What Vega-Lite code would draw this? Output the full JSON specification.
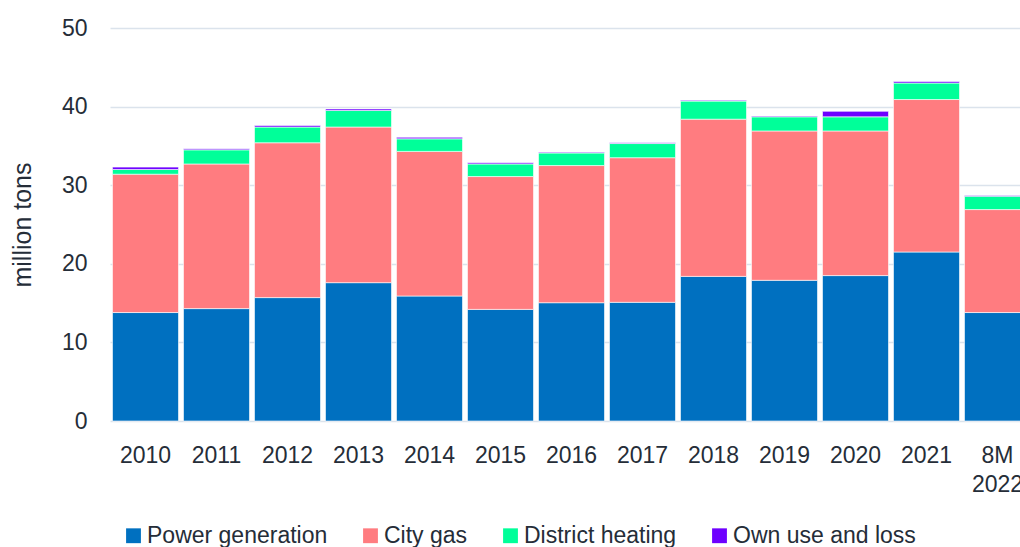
{
  "$schema": "https://vega.github.io/schema/vega-lite/v6.json",
  "autosize": {"type": "none"},
  "width": 923,
  "height": 393,
  "padding": {"left": 110, "top": 28, "right": 0, "bottom": 126},
  "background": "white",
  "config": {
    "view": {"stroke": null},
    "font": "Liberation Sans",
    "axis": {"labelFont": "Liberation Sans", "titleFont": "Liberation Sans", "labelColor": "#252d38", "titleColor": "#252d38"},
    "legend": {"labelFont": "Liberation Sans"}
  },
  "data": {
    "values": [
      {"year": "2010", "cat": "Power generation", "o": 1, "v": 13.8},
      {"year": "2010", "cat": "City gas", "o": 2, "v": 17.6},
      {"year": "2010", "cat": "District heating", "o": 3, "v": 0.6},
      {"year": "2010", "cat": "Own use and loss", "o": 4, "v": 0.3},
      {"year": "2011", "cat": "Power generation", "o": 1, "v": 14.3},
      {"year": "2011", "cat": "City gas", "o": 2, "v": 18.4},
      {"year": "2011", "cat": "District heating", "o": 3, "v": 1.8},
      {"year": "2011", "cat": "Own use and loss", "o": 4, "v": 0.15},
      {"year": "2012", "cat": "Power generation", "o": 1, "v": 15.7},
      {"year": "2012", "cat": "City gas", "o": 2, "v": 19.7},
      {"year": "2012", "cat": "District heating", "o": 3, "v": 2.0},
      {"year": "2012", "cat": "Own use and loss", "o": 4, "v": 0.2},
      {"year": "2013", "cat": "Power generation", "o": 1, "v": 17.6},
      {"year": "2013", "cat": "City gas", "o": 2, "v": 19.8},
      {"year": "2013", "cat": "District heating", "o": 3, "v": 2.1},
      {"year": "2013", "cat": "Own use and loss", "o": 4, "v": 0.2},
      {"year": "2014", "cat": "Power generation", "o": 1, "v": 15.9},
      {"year": "2014", "cat": "City gas", "o": 2, "v": 18.4},
      {"year": "2014", "cat": "District heating", "o": 3, "v": 1.6},
      {"year": "2014", "cat": "Own use and loss", "o": 4, "v": 0.2},
      {"year": "2015", "cat": "Power generation", "o": 1, "v": 14.2},
      {"year": "2015", "cat": "City gas", "o": 2, "v": 16.9},
      {"year": "2015", "cat": "District heating", "o": 3, "v": 1.6},
      {"year": "2015", "cat": "Own use and loss", "o": 4, "v": 0.15},
      {"year": "2016", "cat": "Power generation", "o": 1, "v": 15.05},
      {"year": "2016", "cat": "City gas", "o": 2, "v": 17.45},
      {"year": "2016", "cat": "District heating", "o": 3, "v": 1.6},
      {"year": "2016", "cat": "Own use and loss", "o": 4, "v": 0.1},
      {"year": "2017", "cat": "Power generation", "o": 1, "v": 15.1},
      {"year": "2017", "cat": "City gas", "o": 2, "v": 18.4},
      {"year": "2017", "cat": "District heating", "o": 3, "v": 1.8},
      {"year": "2017", "cat": "Own use and loss", "o": 4, "v": 0.1},
      {"year": "2018", "cat": "Power generation", "o": 1, "v": 18.4},
      {"year": "2018", "cat": "City gas", "o": 2, "v": 20.0},
      {"year": "2018", "cat": "District heating", "o": 3, "v": 2.3},
      {"year": "2018", "cat": "Own use and loss", "o": 4, "v": 0.1},
      {"year": "2019", "cat": "Power generation", "o": 1, "v": 17.9},
      {"year": "2019", "cat": "City gas", "o": 2, "v": 19.0},
      {"year": "2019", "cat": "District heating", "o": 3, "v": 1.8},
      {"year": "2019", "cat": "Own use and loss", "o": 4, "v": 0.1},
      {"year": "2020", "cat": "Power generation", "o": 1, "v": 18.5},
      {"year": "2020", "cat": "City gas", "o": 2, "v": 18.4},
      {"year": "2020", "cat": "District heating", "o": 3, "v": 1.8},
      {"year": "2020", "cat": "Own use and loss", "o": 4, "v": 0.7},
      {"year": "2021", "cat": "Power generation", "o": 1, "v": 21.5},
      {"year": "2021", "cat": "City gas", "o": 2, "v": 19.4},
      {"year": "2021", "cat": "District heating", "o": 3, "v": 2.1},
      {"year": "2021", "cat": "Own use and loss", "o": 4, "v": 0.2},
      {"year": "8M 2022", "cat": "Power generation", "o": 1, "v": 13.8},
      {"year": "8M 2022", "cat": "City gas", "o": 2, "v": 13.1},
      {"year": "8M 2022", "cat": "District heating", "o": 3, "v": 1.7},
      {"year": "8M 2022", "cat": "Own use and loss", "o": 4, "v": 0.1}
    ]
  },
  "mark": {"type": "bar", "stroke": "white", "strokeWidth": 1, "strokeOpacity": 0.6},
  "encoding": {
    "x": {
      "field": "year", "type": "nominal", "sort": null,
      "scale": {"paddingInner": 0.07, "paddingOuter": 0.035},
      "axis": {
        "title": null, "labelAngle": 0, "labelFontSize": 23, "labelPadding": 23,
        "ticks": false, "domain": false, "labelLineHeight": 29,
        "labelExpr": "datum.value == '8M 2022' ? ['8M', '2022'] : datum.value"
      }
    },
    "y": {
      "field": "v", "type": "quantitative", "stack": "zero",
      "scale": {"domain": [0, 50]},
      "axis": {
        "title": "million tons", "titleFontSize": 25, "titleFontWeight": "normal", "titlePadding": 26,
        "labelFontSize": 23, "labelPadding": 23, "ticks": false, "domain": false,
        "values": [0, 10, 20, 30, 40, 50], "labelOverlap": false,
        "gridColor": "#dbe3ec", "gridWidth": 1.5
      }
    },
    "color": {
      "field": "cat", "type": "nominal",
      "scale": {
        "domain": ["Power generation", "City gas", "District heating", "Own use and loss"],
        "range": ["#0070C0", "#FF7C80", "#00FF99", "#6E00FF"]
      },
      "legend": {
        "title": null, "orient": "none", "legendX": 12, "legendY": 496, "direction": "horizontal", "columns": 4,
        "labelFontSize": 23, "labelLimit": 0, "labelColor": "#252d38", "symbolType": "square", "symbolSize": 220,
        "symbolStrokeWidth": 0, "columnPadding": 31, "labelOffset": 2
      }
    },
    "order": {"field": "o", "type": "quantitative", "sort": "ascending"}
  }
}
